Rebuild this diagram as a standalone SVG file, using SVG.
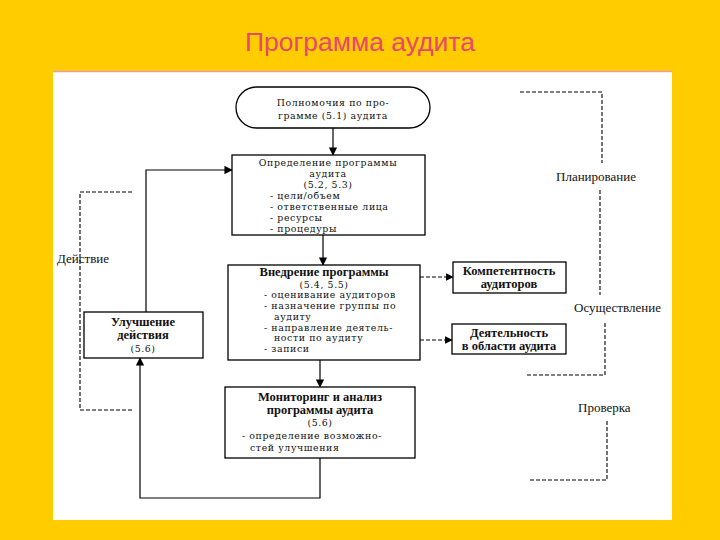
<svg xmlns="http://www.w3.org/2000/svg" width="720" height="540" viewBox="0 0 720 540">
<defs>
<marker id="ah" viewBox="0 0 10 10" refX="9" refY="5" markerWidth="7" markerHeight="7" orient="auto"><path d="M0,0 L10,5 L0,10 z" fill="#000"/></marker>
<style>
.t{font-family:"DejaVu Serif","Liberation Serif",serif;font-size:9.4px;letter-spacing:0.6px;fill:#111}
.b{font-family:"Liberation Serif","Times New Roman",serif;font-size:12.5px;font-weight:bold;fill:#111}
.c{text-anchor:middle}
.box{fill:#fff;stroke:#000;stroke-width:1.3}
.ln{fill:none;stroke:#000;stroke-width:1.2}
.ds{fill:none;stroke:#000;stroke-width:1.1;stroke-dasharray:4,2}
.lab{font-family:"Liberation Serif","Times New Roman",serif;font-size:13px;fill:#111}
</style>
</defs>
<rect x="0" y="0" width="720" height="540" fill="#FFCC00"/>
<rect x="53" y="71" width="619" height="449" fill="#fff"/>
<line x1="53" y1="71.5" x2="672" y2="71.5" stroke="#E9A0A0" stroke-width="1.5"/>
<text x="360" y="51" text-anchor="middle" font-family="Liberation Sans, Arial, sans-serif" font-size="26.5" fill="#E8476E">Программа аудита</text>

<g id="connectors">
<line class="ln" x1="333" y1="128" x2="333" y2="155" marker-end="url(#ah)"/>
<line class="ln" x1="323" y1="235" x2="323" y2="265" marker-end="url(#ah)"/>
<line class="ln" x1="320" y1="360" x2="320" y2="387" marker-end="url(#ah)"/>
<polyline class="ln" points="146,312 146,170 232,170" marker-end="url(#ah)"/>
<polyline class="ln" points="320,458 320,498 140,498 140,358" marker-end="url(#ah)"/>
<line class="ds" x1="420" y1="277" x2="453" y2="277" marker-end="url(#ah)"/>
<line class="ds" x1="420" y1="340" x2="452" y2="340" marker-end="url(#ah)"/>
<polyline class="ds" points="132,192 80,192 80,410 132,410"/>
<polyline class="ds" points="520,92 602,92 602,163"/>
<line class="ds" x1="600" y1="190" x2="600" y2="295"/>
<polyline class="ds" points="605,323 605,375 525,375"/>
<polyline class="ds" points="607,421 607,480 530,480"/>
</g>

<g id="n1">
<rect class="box" x="236" y="87" width="194" height="41" rx="20.5"/>
<text class="t c" x="333" y="106">Полномочия по про-</text>
<text class="t c" x="333" y="119">грамме (5.1) аудита</text>
</g>
<g id="n2">
<rect class="box" x="232" y="155" width="193" height="80"/>
<text class="t c" x="328" y="166">Определение программы</text>
<text class="t c" x="328" y="177">аудита</text>
<text class="t c" x="328" y="188">(5.2, 5.3)</text>
<text class="t" x="270" y="199">- цели/объем</text>
<text class="t" x="270" y="210">- ответственные лица</text>
<text class="t" x="270" y="221">- ресурсы</text>
<text class="t" x="270" y="232">- процедуры</text>
</g>
<g id="n3">
<rect class="box" x="228" y="265" width="192" height="95"/>
<text class="b c" x="324" y="276">Внедрение программы</text>
<text class="t c" x="324" y="287.5">(5.4, 5.5)</text>
<text class="t" x="264" y="298.3">- оценивание аудиторов</text>
<text class="t" x="264" y="309">- назначение группы по</text>
<text class="t" x="274" y="319.8">аудиту</text>
<text class="t" x="264" y="330.6">- направление деятель-</text>
<text class="t" x="274" y="341.4">ности по аудиту</text>
<text class="t" x="264" y="352.2">- записи</text>
</g>
<g id="n4">
<rect class="box" x="453" y="262" width="113" height="31"/>
<text class="b c" x="509" y="275">Компетентность</text>
<text class="b c" x="509" y="288">аудиторов</text>
</g>
<g id="n5">
<rect class="box" x="452" y="324" width="114" height="30"/>
<text class="b c" x="509" y="337">Деятельность</text>
<text class="b c" x="509" y="350">в области аудита</text>
</g>
<g id="n6">
<rect class="box" x="225" y="387" width="190" height="71"/>
<text class="b c" x="320" y="401">Мониторинг и анализ</text>
<text class="b c" x="320" y="414">программы аудита</text>
<text class="t c" x="320" y="426">(5.6)</text>
<text class="t" x="242" y="439">- определение возможно-</text>
<text class="t" x="250" y="451">стей улучшения</text>
</g>
<g id="n7">
<rect class="box" x="84" y="312" width="119" height="46"/>
<text class="b c" x="143" y="326">Улучшение</text>
<text class="b c" x="143" y="339">действия</text>
<text class="t c" x="143" y="352">(5.6)</text>
</g>
<g id="labels">
<text class="lab" x="57" y="263">Действие</text>
<text class="lab" x="556" y="181">Планирование</text>
<text class="lab" x="574" y="312">Осуществление</text>
<text class="lab" x="578" y="412">Проверка</text>
</g>
</svg>
